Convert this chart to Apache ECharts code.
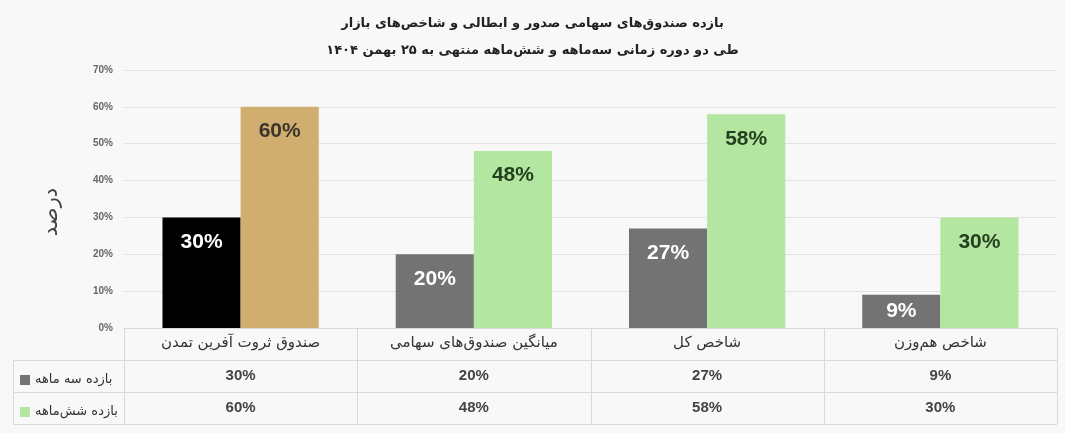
<!DOCTYPE html>
<html><head><meta charset="utf-8">
<script src="https://cdn.jsdelivr.net/npm/echarts@6/dist/echarts.min.js"></script>
<style>html,body{margin:0;padding:0;background:#f8f8f8}#c{width:1065px;height:433px}</style>
</head><body><div id="c"></div>
<script>
const titleLines = ['بازده صندوق‌های سهامی صدور و ابطالی و شاخص‌های بازار', 'طی دو دوره زمانی سه‌ماهه و شش‌ماهه منتهی به ۲۵ بهمن ۱۴۰۴'];
const categories = ['صندوق ثروت آفرین تمدن', 'میانگین صندوق‌های سهامی', 'شاخص کل', 'شاخص هم‌وزن'];
const seriesNames = ['بازده سه ماهه', 'بازده شش‌ماهه'];
const threeMonth = [30, 20, 27, 9];
const sixMonth = [60, 48, 58, 30];
const yAxisName = 'درصد';
const yMin = 0, yMax = 70, yStep = 10;

const FA = 'DejaVu Sans, sans-serif';
const EN = 'Liberation Sans, Arial, sans-serif';
const ROW_H = 32;

function barData(values, baseColor, firstColor, baseLabel, firstLabel) {
  return values.map((v, i) => ({
    value: v,
    itemStyle: { color: i === 0 ? firstColor : baseColor },
    label: {
      color: i === 0 ? firstLabel : baseLabel,
      position: v < 12 ? 'inside' : 'insideTop'
    }
  }));
}

const labelCommon = {
  show: true, distance: 14, formatter: '{c}%',
  fontFamily: EN, fontWeight: 'bold', fontSize: 21
};

const chart = echarts.init(document.getElementById('c'));
const option = {
  backgroundColor: '#f8f8f8',
  animation: false,
  title: {
    text: titleLines.join('\n'),
    left: 'center', top: 5,
    textStyle: { fontFamily: FA, fontWeight: 'bold', fontSize: 13, lineHeight: 27, color: '#222' }
  },
  legend: {
    orient: 'vertical', left: 15, top: 367,
    itemWidth: 10, itemHeight: 10, itemGap: 16,
    icon: 'rect',
    textStyle: { fontFamily: FA, fontSize: 13, color: '#333', lineHeight: 16 },
    data: seriesNames
  },
  grid: { left: 124, right: 8, top: 70, bottom: 105, containLabel: false },
  xAxis: [
    {
      type: 'category', data: categories, position: 'bottom',
      axisLine: { show: true, lineStyle: { color: '#d9d9d9' } },
      axisTick: { show: false },
      axisLabel: { margin: 8, fontFamily: FA, fontSize: 15, color: '#333' }
    },
    {
      type: 'category', data: categories, position: 'bottom', offset: ROW_H,
      axisLine: { show: false }, axisTick: { show: false },
      axisLabel: { margin: 8, fontFamily: EN, fontSize: 15, fontWeight: 'bold', color: '#444',
        formatter: (v, i) => threeMonth[i] + '%' }
    },
    {
      type: 'category', data: categories, position: 'bottom', offset: ROW_H * 2,
      axisLine: { show: false }, axisTick: { show: false },
      axisLabel: { margin: 8, fontFamily: EN, fontSize: 15, fontWeight: 'bold', color: '#444',
        formatter: (v, i) => sixMonth[i] + '%' }
    }
  ],
  yAxis: {
    type: 'value', min: yMin, max: yMax, interval: yStep,
    name: yAxisName, nameLocation: 'middle', nameGap: 62,
    nameTextStyle: { fontFamily: FA, fontSize: 21, color: '#444', padding: [0, 0, 0, -26] },
    axisLine: { show: false }, axisTick: { show: false },
    axisLabel: { formatter: '{value}%', fontFamily: EN, fontWeight: 'bold', fontSize: 10, color: '#666', margin: 11 },
    splitLine: { lineStyle: { color: '#e3e3e3', width: 1 } }
  },
  series: [
    {
      name: seriesNames[0], type: 'bar', xAxisIndex: 0,
      barGap: '0%', barCategoryGap: '33%',
      itemStyle: { color: '#737373' },
      label: labelCommon,
      data: barData(threeMonth, '#737373', '#000000', '#ffffff', '#ffffff')
    },
    {
      name: seriesNames[1], type: 'bar', xAxisIndex: 0,
      barGap: '0%', barCategoryGap: '33%',
      itemStyle: { color: '#b3e6a1' },
      label: labelCommon,
      data: barData(sixMonth, '#b3e6a1', '#cfae6f', '#25401f', '#3d352c')
    }
  ]
};
chart.setOption(option);

// table borders derived from the axis scale
const centers = categories.map(c => chart.convertToPixel({ xAxisIndex: 0 }, c));
const band = centers[1] - centers[0];
const bounds = [centers[0] - band / 2].concat(centers.map(c => c + band / 2));
const y0 = chart.convertToPixel({ yAxisIndex: 0 }, yMin);
const tableLeft = 13;
const lineStyle = { stroke: '#d9d9d9', lineWidth: 1 };
const els = [];
const r = v => Math.round(v) + 0.5;
[1, 2, 3].forEach(k => {
  els.push({ type: 'line', shape: { x1: tableLeft, y1: r(y0 + ROW_H * k), x2: bounds[bounds.length - 1], y2: r(y0 + ROW_H * k) }, style: lineStyle });
});
bounds.forEach(b => {
  els.push({ type: 'line', shape: { x1: r(b), y1: y0, x2: r(b), y2: y0 + ROW_H * 3 }, style: lineStyle });
});
els.push({ type: 'line', shape: { x1: r(tableLeft), y1: y0 + ROW_H, x2: r(tableLeft), y2: y0 + ROW_H * 3 }, style: lineStyle });
chart.setOption({ graphic: els });
</script>
</body></html>
